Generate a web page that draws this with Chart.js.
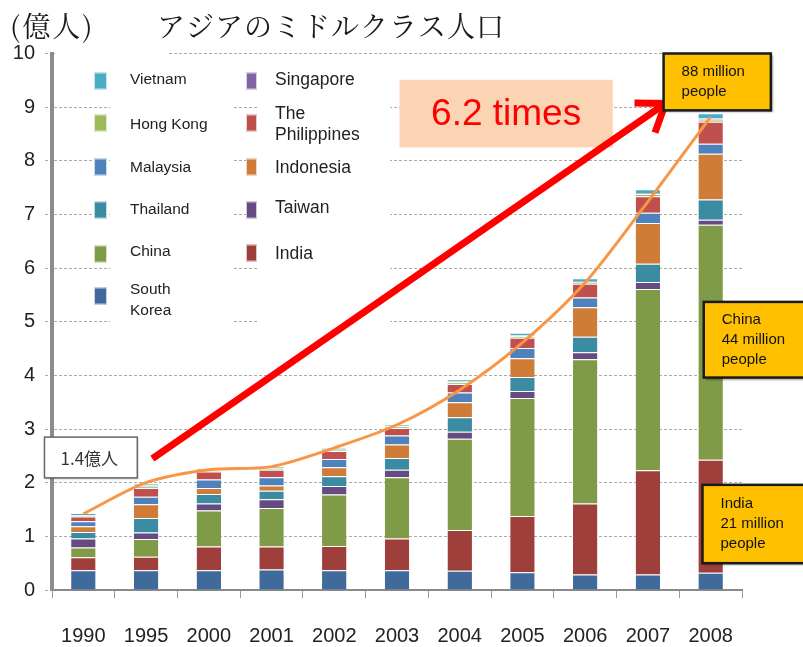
<!DOCTYPE html>
<html lang="ja">
<head>
<meta charset="UTF-8">
<title>アジアのミドルクラス人口</title>
<script src="https://cdn.jsdelivr.net/npm/chart.js"></script>
<style>
    * { margin: 0; padding: 0; box-sizing: border-box; }
    body { background: #fff; }
    .chart-box { position: relative; width: 803px; height: 647px; }
</style>
</head>
<body>
<div class="chart-box"><canvas id="middleClass"></canvas></div>
<script>
// Middle class population by country (unit: 100 million people)
const years = ['1990', '1995', '2000', '2001', '2002', '2003', '2004', '2005', '2006', '2007', '2008'];
const southKorea  = [0.37, 0.37, 0.37, 0.38, 0.37, 0.37, 0.36, 0.33, 0.29, 0.29, 0.32];
const india       = [0.24, 0.25, 0.44, 0.43, 0.45, 0.59, 0.76, 1.05, 1.32, 1.94, 2.11];
const china       = [0.18, 0.33, 0.67, 0.72, 0.96, 1.14, 1.70, 2.20, 2.69, 3.38, 4.38];
const taiwan      = [0.17, 0.12, 0.13, 0.16, 0.16, 0.14, 0.13, 0.13, 0.13, 0.13, 0.09];
const thailand    = [0.12, 0.27, 0.18, 0.16, 0.18, 0.22, 0.27, 0.26, 0.29, 0.34, 0.38];
const indonesia   = [0.11, 0.26, 0.11, 0.10, 0.17, 0.25, 0.28, 0.35, 0.55, 0.76, 0.85];
const malaysia    = [0.09, 0.14, 0.16, 0.15, 0.15, 0.17, 0.18, 0.19, 0.18, 0.19, 0.19];
const philippines = [0.09, 0.16, 0.15, 0.14, 0.15, 0.14, 0.16, 0.19, 0.26, 0.31, 0.41];
const hongKong    = [0.02, 0.03, 0.02, 0.02, 0.02, 0.03, 0.03, 0.03, 0.03, 0.04, 0.04];
const singapore   = [0.01, 0.02, 0.01, 0.01, 0.01, 0.01, 0.02, 0.02, 0.02, 0.02, 0.03];
const vietnam     = [0.03, 0.03, 0.03, 0.03, 0.03, 0.035, 0.04, 0.045, 0.05, 0.07, 0.085];
// orange trend curve
const trend = [1.42, 2.0, 2.24, 2.30, 2.65, 3.08, 3.73, 4.61, 5.73, 7.24, 8.82];
const yTickLabels = ['0', '1', '2', '3', '4', '5', '6', '7', '8', '9', '10'];

const series = [
    { label: 'South Korea', data: southKorea, color: '#40699C' },
    { label: 'India', data: india, color: '#9F3F3C' },
    { label: 'China', data: china, color: '#7F9B47' },
    { label: 'Taiwan', data: taiwan, color: '#664A82' },
    { label: 'Thailand', data: thailand, color: '#3B8BA3' },
    { label: 'Indonesia', data: indonesia, color: '#D07C39' },
    { label: 'Malaysia', data: malaysia, color: '#4F81BD' },
    { label: 'The Philippines', data: philippines, color: '#C0504D' },
    { label: 'Hong Kong', data: hongKong, color: '#9BBB59' },
    { label: 'Singapore', data: singapore, color: '#8064A2' },
    { label: 'Vietnam', data: vietnam, color: '#4BACC6' }
];

const SANS = "'Liberation Sans', Arial, sans-serif";
const CJK = "'Noto Serif CJK JP', 'Noto Sans CJK JP', sans-serif";

// legend rows: [series label, lines, column, row center y, swatch center y]
const legendItems = [
    ['Vietnam', ['Vietnam'], 0, 80, 81],
    ['Hong Kong', ['Hong Kong'], 0, 125, 123],
    ['Malaysia', ['Malaysia'], 0, 168, 167],
    ['Thailand', ['Thailand'], 0, 210, 210],
    ['China', ['China'], 0, 252, 254],
    ['South Korea', ['South', 'Korea'], 0, 300, 296],
    ['Singapore', ['Singapore'], 1, 80, 81],
    ['The Philippines', ['The', 'Philippines'], 1, 125, 123],
    ['Indonesia', ['Indonesia'], 1, 168, 167],
    ['Taiwan', ['Taiwan'], 1, 208, 210],
    ['India', ['India'], 1, 254, 253]
];

const colorOf = name => series.find(s => s.label === name).color;

const legendBoxes = {
    id: 'legendBoxes',
    beforeDatasetsDraw(chart) {
        const ctx = chart.ctx;
        ctx.save();
        ctx.fillStyle = '#fff';
        ctx.fillRect(110, 58, 123, 278);
        ctx.fillRect(257, 58, 133, 278);
        ctx.fillRect(55, 49, 112, 9);
        const cols = [{ sx: 94, sw: 13, tx: 130, size: 15.5 }, { sx: 246, sw: 11, tx: 275, size: 17.5 }];
        legendItems.forEach(([name, lines, col, ty, sy]) => {
            const c = cols[col];
            ctx.fillStyle = colorOf(name);
            ctx.fillRect(c.sx, sy - 8.5, c.sw, 17);
            ctx.strokeStyle = 'rgba(255,255,255,0.7)';
            ctx.lineWidth = 1;
            ctx.strokeRect(c.sx + 0.5, sy - 8, c.sw - 1, 16);
            ctx.fillStyle = '#222';
            ctx.font = c.size + 'px ' + SANS;
            ctx.textBaseline = 'middle';
            ctx.textAlign = 'left';
            const gap = 21;
            const y0 = ty - (lines.length - 1) * gap / 2;
            lines.forEach((t, i) => ctx.fillText(t, c.tx, y0 + i * gap));
        });
        ctx.restore();
    }
};

function calloutBox(ctx, x1, y1, x2, y2, lines, size) {
    ctx.save();
    ctx.shadowColor = 'rgba(0,0,0,0.35)';
    ctx.shadowOffsetX = 2;
    ctx.shadowOffsetY = 2;
    ctx.shadowBlur = 2;
    ctx.fillStyle = '#FFC000';
    ctx.fillRect(x1, y1, x2 - x1, y2 - y1);
    ctx.shadowColor = 'transparent';
    ctx.strokeStyle = '#1a1a1a';
    ctx.lineWidth = 2.5;
    ctx.strokeRect(x1, y1, x2 - x1, y2 - y1);
    ctx.fillStyle = '#111';
    ctx.font = size + 'px ' + SANS;
    ctx.textBaseline = 'middle';
    ctx.textAlign = 'left';
    const gap = 20;
    const h = (y2 - y1);
    const y0 = y1 + h / 2 - (lines.length - 1) * gap / 2;
    lines.forEach((t, i) => ctx.fillText(t, x1 + 18, y0 + i * gap));
    ctx.restore();
}

const annotations = {
    id: 'annotations',
    afterDraw(chart) {
        const ctx = chart.ctx;
        const xs = chart.scales.x, ys = chart.scales.y;
        const step = xs.getPixelForValue(1) - xs.getPixelForValue(0);
        const cx = v => xs.getPixelForValue(0) + v * step;
        const cy = v => ys.getPixelForValue(v);

        // "6.2 times" label
        ctx.save();
        ctx.fillStyle = '#FBD4B4';
        ctx.fillRect(cx(5.04), cy(9.51), cx(8.44) - cx(5.04), cy(8.25) - cy(9.51));
        ctx.fillStyle = '#FF0000';
        ctx.font = '37px ' + SANS;
        ctx.textAlign = 'center';
        ctx.textBaseline = 'middle';
        ctx.fillText('6.2 times', (cx(5.04) + cx(8.44)) / 2, (cy(9.51) + cy(8.25)) / 2 + 1);
        ctx.restore();

        // red growth arrow
        const ax = cx(1.1), ay = cy(2.45), bx = cx(9.28), by = cy(9.07);
        const ang = Math.atan2(by - ay, bx - ax);
        ctx.save();
        ctx.strokeStyle = '#FF0000';
        ctx.lineWidth = 7;
        ctx.lineCap = 'butt';
        ctx.beginPath();
        ctx.moveTo(ax, ay);
        ctx.lineTo(bx - 3 * Math.cos(ang), by - 3 * Math.sin(ang));
        ctx.stroke();
        ctx.lineJoin = 'miter';
        ctx.beginPath();
        const arm = 31, spread = 0.62;
        ctx.moveTo(bx - arm * Math.cos(ang - spread), by - arm * Math.sin(ang - spread));
        ctx.lineTo(bx, by);
        ctx.lineTo(bx - arm * Math.cos(ang + spread), by - arm * Math.sin(ang + spread));
        ctx.stroke();
        ctx.restore();

        // 1990 starting value
        ctx.save();
        const bx1 = cx(-0.62), by1 = cy(2.85), bx2 = cx(0.86), by2 = cy(2.09);
        ctx.shadowColor = 'rgba(0,0,0,0.25)';
        ctx.shadowOffsetX = 1;
        ctx.shadowOffsetY = 1;
        ctx.shadowBlur = 2;
        ctx.fillStyle = '#fff';
        ctx.fillRect(bx1, by1, bx2 - bx1, by2 - by1);
        ctx.shadowColor = 'transparent';
        ctx.strokeStyle = '#666';
        ctx.lineWidth = 1.5;
        ctx.strokeRect(bx1, by1, bx2 - bx1, by2 - by1);
        ctx.fillStyle = '#333';
        ctx.font = '17px ' + "'Noto Sans CJK JP', sans-serif";
        ctx.textBaseline = 'middle';
        ctx.fillText('1.4億人', bx1 + 16, (by1 + by2) / 2 + 1);
        ctx.restore();

        calloutBox(ctx, cx(9.25), cy(10.0), cx(10.96), cy(8.94), ['88 million', 'people'], 15);
        calloutBox(ctx, cx(9.89), cy(5.37), cx(11.6), cy(3.96), ['China', '44 million', 'people'], 15);
        calloutBox(ctx, cx(9.87), cy(1.96), cx(11.6), cy(0.50), ['India', '21 million', 'people'], 15);

        // headings
        ctx.save();
        ctx.fillStyle = '#1a1a1a';
        ctx.textBaseline = 'middle';
        ctx.textAlign = 'left';
        ctx.font = '28px ' + CJK;
        ctx.letterSpacing = '2px';
        ctx.fillText('(億人)', 10, 26);
        ctx.letterSpacing = '1px';
        ctx.fillText('アジアのミドルクラス人口', 157, 26);
        ctx.restore();
    }
};

const datasets = series.map(s => ({
    label: s.label,
    data: s.data,
    backgroundColor: s.color,
    borderColor: 'rgba(255,255,255,0.45)',
    borderWidth: { top: 1, left: 0, right: 0, bottom: 0 },
    stack: 'countries',
    order: 1,
    barPercentage: 0.39,
    categoryPercentage: 1
}));

datasets.push({
    type: 'line',
    label: 'Total',
    data: trend,
    borderColor: '#F79646',
    borderWidth: 3,
    pointRadius: 0,
    tension: 0.3,
    fill: false,
    stack: 'trend',
    order: 0
});

new Chart(document.getElementById('middleClass'), {
    type: 'bar',
    data: { labels: years, datasets: datasets },
    options: {
        responsive: true,
        maintainAspectRatio: false,
        animation: false,
        layout: { padding: { top: 53.5, right: 61, left: 0, bottom: 0 } },
        plugins: { legend: { display: false }, tooltip: { enabled: false } },
        scales: {
            x: {
                stacked: true,
                grid: { drawOnChartArea: false, drawTicks: true, tickLength: 8, color: '#999', offset: true },
                border: { color: '#8a8a8a', width: 2 },
                ticks: { font: { family: SANS, size: 20 }, color: '#222', padding: 26 },
                afterFit: s => { s.height = 57; }
            },
            y: {
                stacked: true,
                min: 0,
                max: 10,
                ticks: {
                    stepSize: 1,
                    font: { family: SANS, size: 20 },
                    color: '#222',
                    padding: 10,
                    callback: v => yTickLabels[v]
                },
                grid: { color: '#ababab', tickLength: 7, tickColor: '#ababab', tickBorderDash: [3, 2] },
                border: { color: '#8c8c8c', width: 4, dash: [3, 2] },
                afterFit: s => { s.width = 52; }
            }
        }
    },
    plugins: [legendBoxes, annotations]
});
</script>
</body>
</html>
